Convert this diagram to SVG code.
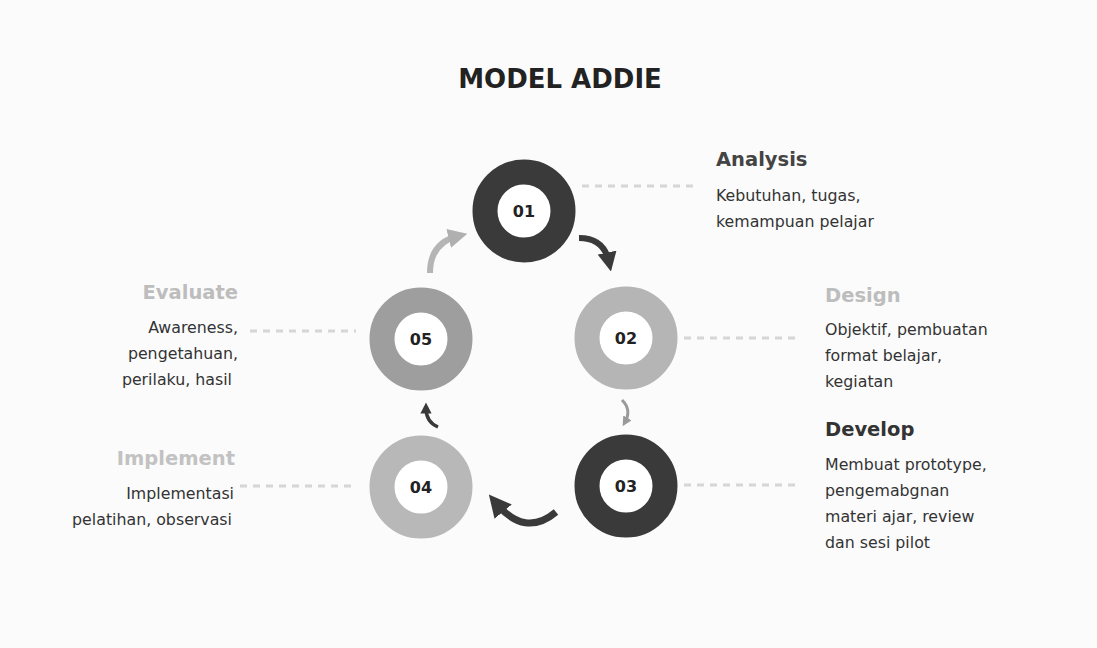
<svg xmlns="http://www.w3.org/2000/svg" width="1097" height="648" viewBox="0 0 1097 648">
<defs>
<style>
.title{font-family:"DejaVu Sans",sans-serif;font-weight:700;font-size:26px;fill:#222;}
.head{font-family:"DejaVu Sans",sans-serif;font-weight:700;font-size:19.5px;}
.body{font-family:"DejaVu Sans",sans-serif;font-size:15.8px;fill:#333;}
.num{font-family:"DejaVu Sans",sans-serif;font-weight:700;font-size:16px;fill:#222;text-anchor:middle;}
.dash{stroke:#d6d6d6;stroke-width:3;stroke-dasharray:7 6;fill:none;}
.ring{stroke-width:25;fill:#fff;}
</style>
<marker id="ahDark" viewBox="0 0 10 10" refX="5" refY="5" markerWidth="3.2" markerHeight="3.2" orient="auto"><path d="M0,0 L10,5 L0,10 z" fill="#3a3a3a"/></marker>
<marker id="ahLight" viewBox="0 0 10 10" refX="5" refY="5" markerWidth="3.2" markerHeight="3.2" orient="auto"><path d="M0,0 L10,5 L0,10 z" fill="#b0b0b0"/></marker>
<marker id="ahMid" viewBox="0 0 10 10" refX="5" refY="5" markerWidth="3.2" markerHeight="3.2" orient="auto"><path d="M0,0 L10,5 L0,10 z" fill="#9a9a9a"/></marker>
</defs>
<rect width="1097" height="648" fill="#fbfbfb"/>
<text class="title" x="560" y="88" text-anchor="middle">MODEL ADDIE</text>

<g id="connectors">
<path class="dash" d="M582,186 H696"/>
<path class="dash" d="M684,338 H800"/>
<path class="dash" d="M684,485 H800"/>
<path class="dash" d="M250,331 H356"/>
<path class="dash" d="M240,486 H356"/>
<path d="M579,238 Q604,238 609,262" fill="none" stroke="#3a3a3a" stroke-width="6" marker-end="url(#ahDark)"/>
<path d="M622,400 Q632,410 625,422" fill="none" stroke="#9a9a9a" stroke-width="3" marker-end="url(#ahMid)"/>
<path d="M556,512 Q525,538 496,503" fill="none" stroke="#3a3a3a" stroke-width="7" marker-end="url(#ahDark)"/>
<path d="M438,427 Q426,422 426,408" fill="none" stroke="#3a3a3a" stroke-width="3.5" marker-end="url(#ahDark)"/>
<path d="M430,273 Q430,243 458,236" fill="none" stroke="#b5b5b5" stroke-width="6" marker-end="url(#ahLight)"/>
</g>

<g id="node-01">
<circle class="ring" cx="524" cy="211" r="39" stroke="#3a3a3a"/>
<text class="num" x="524" y="217">01</text>
</g>
<g id="node-02">
<circle class="ring" cx="626" cy="338" r="39" stroke="#b5b5b5"/>
<text class="num" x="626" y="344">02</text>
</g>
<g id="node-03">
<circle class="ring" cx="626" cy="486" r="39" stroke="#3a3a3a"/>
<text class="num" x="626" y="492">03</text>
</g>
<g id="node-04">
<circle class="ring" cx="421" cy="487" r="39" stroke="#b8b8b8"/>
<text class="num" x="421" y="493">04</text>
</g>
<g id="node-05">
<circle class="ring" cx="421" cy="339" r="39" stroke="#9e9e9e"/>
<text class="num" x="421" y="345">05</text>
</g>

<g id="label-analysis">
<text class="head" x="716" y="166" fill="#444">Analysis</text>
<text class="body" x="716" y="201">Kebutuhan, tugas,</text>
<text class="body" x="716" y="227">kemampuan pelajar</text>
</g>
<g id="label-design">
<text class="head" x="825" y="302" fill="#bdbdbd">Design</text>
<text class="body" x="825" y="335">Objektif, pembuatan</text>
<text class="body" x="825" y="361">format belajar,</text>
<text class="body" x="825" y="387">kegiatan</text>
</g>
<g id="label-develop">
<text class="head" x="825" y="436" fill="#333">Develop</text>
<text class="body" x="825" y="470">Membuat prototype,</text>
<text class="body" x="825" y="496">pengemabgnan</text>
<text class="body" x="825" y="522">materi ajar, review</text>
<text class="body" x="825" y="548">dan sesi pilot</text>
</g>
<g id="label-evaluate" text-anchor="end">
<text class="head" x="238" y="299" fill="#bdbdbd">Evaluate</text>
<text class="body" x="238" y="333">Awareness,</text>
<text class="body" x="238" y="359">pengetahuan,</text>
<text class="body" x="232" y="385">perilaku, hasil</text>
</g>
<g id="label-implement" text-anchor="end">
<text class="head" x="235" y="465" fill="#c2c2c2">Implement</text>
<text class="body" x="234" y="499">Implementasi</text>
<text class="body" x="232" y="525">pelatihan, observasi</text>
</g>
</svg>
